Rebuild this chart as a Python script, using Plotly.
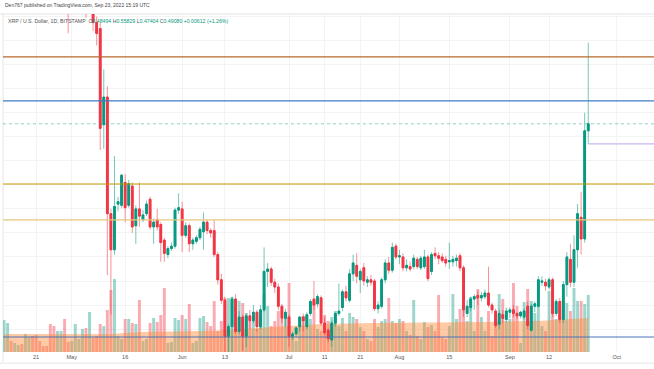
import pandas as pd
import plotly.graph_objects as go

# ---------------- data (XRP/USD, 1D, Bitstamp) ----------------
dates = pd.date_range("2022-04-12", "2022-09-23", freq="D")

open_ = [
 # Apr 12-30
 0.690,0.700,0.712,0.700,0.727,0.728,0.710,0.728,0.740,0.725,0.712,0.700,0.695,0.690,0.680,0.630,0.645,0.650,0.615,
 # May
 0.590,0.612,0.618,0.620,0.650,0.598,0.602,0.575,0.570,0.490,0.513,0.416,0.386,0.424,0.423,0.442,0.423,0.439,0.406,0.420,
 0.411,0.416,0.428,0.405,0.411,0.407,0.394,0.382,0.387,0.389,0.419,
 # Jun
 0.420,0.398,0.406,0.391,0.393,0.396,0.401,0.409,0.402,0.402,0.382,0.361,0.344,0.314,0.322,0.345,0.318,0.330,0.314,0.331,
 0.327,0.334,0.322,0.336,0.368,0.370,0.359,0.355,0.339,0.329,
 # Jul
 0.330,0.314,0.316,0.322,0.330,0.322,0.333,0.345,0.341,0.346,0.325,0.319,0.311,0.325,0.333,0.338,0.351,0.344,0.366,0.373,
 0.361,0.371,0.359,0.361,0.360,0.337,0.339,0.361,0.375,0.369,0.389,
 # Aug
 0.380,0.380,0.371,0.372,0.372,0.378,0.371,0.372,0.380,0.368,0.383,0.381,0.380,0.378,0.376,0.376,0.377,0.381,0.371,0.333,
 0.338,0.345,0.348,0.346,0.347,0.350,0.340,0.335,0.324,0.332,0.328,
 # Sep 1-23
 0.334,0.336,0.333,0.331,0.330,0.339,0.319,0.339,0.339,0.359,0.359,0.355,0.361,0.333,0.343,0.328,0.357,0.378,0.359,0.386,
 0.413,0.395,0.48494,
]
high = [
 0.705,0.716,0.720,0.730,0.735,0.732,0.730,0.745,0.760,0.750,0.718,0.705,0.700,0.700,0.690,0.650,0.660,0.655,0.620,
 0.620,0.625,0.625,0.660,0.655,0.612,0.606,0.580,0.575,0.536,0.522,0.420,0.464,0.430,0.449,0.449,0.444,0.442,0.423,0.442,
 0.419,0.427,0.430,0.412,0.420,0.409,0.396,0.389,0.392,0.421,0.433,
 0.426,0.409,0.408,0.396,0.398,0.405,0.417,0.411,0.404,0.411,0.384,0.366,0.347,0.324,0.347,0.349,0.335,0.332,0.333,0.336,
 0.340,0.336,0.340,0.388,0.375,0.372,0.362,0.358,0.341,0.337,
 0.332,0.318,0.322,0.331,0.333,0.334,0.345,0.360,0.349,0.348,0.330,0.321,0.327,0.334,0.358,0.353,0.356,0.370,0.382,0.383,
 0.370,0.375,0.364,0.365,0.362,0.343,0.363,0.378,0.380,0.392,0.391,
 0.386,0.383,0.378,0.376,0.382,0.380,0.381,0.386,0.382,0.384,0.388,0.384,0.383,0.381,0.392,0.381,0.382,0.383,0.373,0.344,
 0.347,0.349,0.352,0.351,0.353,0.372,0.342,0.337,0.336,0.336,0.338,
 0.338,0.340,0.334,0.335,0.337,0.343,0.341,0.343,0.364,0.364,0.362,0.363,0.363,0.345,0.346,0.360,0.384,0.391,0.398,0.424,
 0.434,0.500,0.55829,
]
low = [
 0.680,0.690,0.690,0.698,0.715,0.705,0.690,0.720,0.720,0.700,0.695,0.690,0.680,0.640,0.625,0.625,0.630,0.610,0.566,
 0.585,0.600,0.603,0.610,0.579,0.586,0.568,0.556,0.469,0.470,0.365,0.332,0.382,0.418,0.421,0.409,0.421,0.400,0.391,0.405,
 0.409,0.414,0.403,0.391,0.402,0.376,0.376,0.379,0.385,0.387,0.416,
 0.384,0.396,0.384,0.386,0.391,0.394,0.386,0.399,0.396,0.380,0.357,0.341,0.300,0.300,0.300,0.316,0.316,0.302,0.305,0.320,
 0.325,0.318,0.320,0.334,0.355,0.356,0.350,0.336,0.325,0.322,
 0.305,0.311,0.313,0.318,0.318,0.320,0.331,0.336,0.338,0.323,0.315,0.309,0.305,0.322,0.331,0.335,0.343,0.342,0.360,0.358,
 0.350,0.356,0.355,0.356,0.335,0.333,0.337,0.358,0.366,0.367,0.378,
 0.374,0.368,0.368,0.368,0.370,0.370,0.369,0.370,0.360,0.365,0.378,0.374,0.375,0.372,0.370,0.372,0.372,0.368,0.330,0.330,
 0.335,0.336,0.340,0.343,0.345,0.338,0.333,0.321,0.320,0.325,0.326,
 0.329,0.330,0.328,0.329,0.328,0.320,0.318,0.334,0.338,0.356,0.352,0.353,0.330,0.331,0.325,0.325,0.347,0.355,0.355,0.371,
 0.382,0.392,0.47404,
]
close = [
 0.700,0.712,0.700,0.727,0.728,0.710,0.728,0.740,0.725,0.712,0.700,0.695,0.690,0.680,0.630,0.645,0.650,0.615,0.590,
 0.612,0.618,0.620,0.650,0.598,0.602,0.575,0.566,0.487,0.513,0.416,0.386,0.422,0.426,0.448,0.421,0.441,0.405,0.420,0.414,
 0.415,0.424,0.405,0.409,0.405,0.392,0.383,0.387,0.389,0.419,0.421,
 0.398,0.406,0.391,0.394,0.396,0.403,0.409,0.402,0.400,0.382,0.361,0.344,0.314,0.322,0.345,0.318,0.330,0.314,0.331,0.327,
 0.334,0.322,0.336,0.368,0.370,0.359,0.355,0.339,0.329,0.334,
 0.314,0.316,0.321,0.330,0.327,0.332,0.343,0.340,0.347,0.325,0.317,0.312,0.325,0.333,0.335,0.351,0.346,0.366,0.375,0.364,
 0.368,0.360,0.361,0.359,0.337,0.340,0.361,0.375,0.369,0.388,0.380,
 0.381,0.371,0.373,0.370,0.379,0.372,0.379,0.380,0.362,0.382,0.381,0.379,0.377,0.375,0.377,0.378,0.379,0.371,0.336,0.339,
 0.345,0.347,0.346,0.348,0.350,0.340,0.336,0.323,0.333,0.329,0.335,
 0.336,0.333,0.331,0.334,0.335,0.323,0.339,0.341,0.361,0.360,0.356,0.361,0.333,0.343,0.328,0.357,0.380,0.359,0.386,0.416,
 0.395,0.48494,0.49080,
]
volume = [
 48,43.5,16.5,13.5,10.5,12,27,22.5,24,25.5,16.5,9,9,42,39,31.5,31.5,49.5,15,
 16.5,42,19.5,34.5,36,60,21,24,42,39,63,93,109.5,24,19.5,49.5,49.5,43.5,42,78,
 16.5,19.5,43.5,51,45,55.5,96,13.5,15,51,48,
 55.5,49.5,72,13.5,16.5,51,54,45,39,76.5,31.5,46.5,81,81,82.5,78,76.5,73.5,58.5,46.5,
 54,34.5,52.5,87,69,39,46.5,61.5,49.5,54,
 103.5,24,16.5,52.5,54,55.5,49.5,76.5,34.5,31.5,55.5,46.5,52.5,61.5,39,51,31.5,58.5,52.5,49.5,
 37.5,31.5,19.5,16.5,49.5,37.5,46.5,49.5,81,46.5,43.5,
 49.5,46.5,31.5,25.5,78,24,19.5,45,37.5,40.5,31.5,85.5,22.5,19.5,39,87,49.5,64.5,98,46.5,
 82.5,31.5,94.5,52.5,31.5,61.5,24,49.5,87,79.5,46.5,
 49.5,103.5,69,13.5,75,94.5,76.5,58.5,105,39,31.5,91.5,91.5,49.5,69,76.5,73.5,61.5,96,76.5,
 76.5,72,85.5,
]
# smoothed volume average (area behind the columns)
vol_ma_dates = ["2022-04-12","2022-05-12","2022-05-20","2022-06-10","2022-06-25","2022-07-10",
                "2022-07-25","2022-08-10","2022-08-25","2022-09-10","2022-09-23"]
vol_ma = [27, 27, 30, 32, 37, 42, 43.5, 44, 45, 47, 51]

# horizontal levels drawn on the chart
levels = [0.5464, 0.5098, 0.4407, 0.4108, 0.3134]
level_colors = ["#b8692c", "#3d7cc6", "#c49a00", "#e7c87c", "#4a72b8"]
last_low = 0.47404
last_close = 0.49080

tick_dates = ["2022-04-21","2022-05-01","2022-05-16","2022-06-01","2022-06-13","2022-07-01","2022-07-11",
              "2022-07-21","2022-08-01","2022-08-15","2022-09-01","2022-09-12","2022-10-01"]
tick_text = ["21","May","16","Jun","13","Jul","11","21","Aug","15","Sep","12","Oct"]
price_grid = [0.32,0.34,0.36,0.38,0.40,0.42,0.44,0.46,0.48,0.50,0.52,0.54,0.56,0.58]

# ---------------- figure ----------------
UP, DN = "#089981", "#f23645"
vol_colors = ["rgba(8,153,129,0.40)" if c >= o else "rgba(242,54,69,0.42)" for o, c in zip(open_, close)]

fig = go.Figure()
fig.add_trace(go.Bar(x=dates, y=volume, marker=dict(color=vol_colors, line=dict(width=0)),
                     yaxis="y", hoverinfo="skip", showlegend=False))
fig.add_trace(go.Scatter(x=vol_ma_dates, y=vol_ma, mode="lines", line=dict(width=0),
                         fill="tozeroy", fillcolor="rgba(255,140,60,0.46)", yaxis="y",
                         hoverinfo="skip", showlegend=False))
# wicks (light)
fig.add_trace(go.Candlestick(x=dates, open=open_, high=high, low=low, close=close, yaxis="y2",
                             increasing=dict(line=dict(color="rgba(8,153,129,0.55)", width=1),
                                             fillcolor="rgba(8,153,129,0.55)"),
                             decreasing=dict(line=dict(color="rgba(242,54,69,0.55)", width=1),
                                             fillcolor="rgba(242,54,69,0.55)"),
                             showlegend=False, hoverinfo="skip"))
# bodies (solid)
body_hi = [max(o, c) for o, c in zip(open_, close)]
body_lo = [min(o, c) for o, c in zip(open_, close)]
fig.add_trace(go.Candlestick(x=dates, open=open_, high=body_hi, low=body_lo, close=close, yaxis="y2",
                             increasing=dict(line=dict(color=UP, width=1), fillcolor=UP),
                             decreasing=dict(line=dict(color=DN, width=1), fillcolor=DN),
                             showlegend=False))

shapes = []
for lv, col in zip(levels, level_colors):
    shapes.append(dict(type="line", xref="paper", x0=0, x1=1, yref="y2", y0=lv, y1=lv,
                       line=dict(color=col, width=1.2), layer="above"))
shapes.append(dict(type="line", xref="paper", x0=0, x1=1, yref="y2", y0=last_close, y1=last_close,
                   line=dict(color="rgba(8,153,129,0.45)", width=1, dash="dot"), layer="above"))
shapes.append(dict(type="line", xref="x", x0=dates[-1], x1="2022-10-12", yref="y2", y0=last_low, y1=last_low,
                   line=dict(color="#c9b4f0", width=1.2), layer="above"))
# frame lines
shapes.append(dict(type="line", xref="paper", x0=-0.01, x1=1.01, yref="paper", y0=1, y1=1,
                   line=dict(color="#e0e3eb", width=1), layer="below"))
shapes.append(dict(type="line", xref="paper", x0=0, x1=0, yref="paper", y0=-0.03, y1=1,
                   line=dict(color="#e6e6e6", width=1), layer="below"))
shapes.append(dict(type="line", xref="paper", x0=-0.01, x1=1.01, yref="paper", y0=-0.033, y1=-0.033,
                   line=dict(color="#e6e6e6", width=1), layer="below"))

FONT = "Liberation Sans, Arial, sans-serif"
ohlc = ("<span style='color:#555'>XRP / U.S. Dollar, 1D, BITSTAMP</span>  "
        "<span style='color:#555'>O</span><span style='color:#089981'>0.48494</span> "
        "<span style='color:#555'>H</span><span style='color:#089981'>0.55829</span> "
        "<span style='color:#555'>L</span><span style='color:#089981'>0.47404</span> "
        "<span style='color:#555'>C</span><span style='color:#089981'>0.49080 +0.00612 (+1.26%)</span>")
annotations = [
    dict(text="Den767 published on TradingView.com, Sep 23, 2022 15:19 UTC", xref="paper", yref="paper",
         x=0.0, y=1.027, xanchor="left", yanchor="middle", showarrow=False,
         font=dict(family=FONT, size=5.0, color="#444")),
    dict(text=ohlc, xref="paper", yref="paper", x=0.0046, y=0.979, xanchor="left", yanchor="middle",
         showarrow=False, font=dict(family=FONT, size=5.2, color="#555")),
]

fig.update_layout(
    width=654, height=369,
    margin=dict(l=3, r=0, t=14, b=17),
    paper_bgcolor="white", plot_bgcolor="white",
    showlegend=False, bargap=0.18, boxgap=0.3,
    font=dict(family=FONT),
    xaxis=dict(type="date", range=["2022-04-11 17:00", "2022-10-11 11:00"],
               rangeslider=dict(visible=False), tickmode="array", tickvals=tick_dates, ticktext=tick_text,
               tickfont=dict(size=5.5, color="#555"), ticks="", showgrid=True, gridcolor="#f3f3f3",
               zeroline=False, showline=False, fixedrange=True),
    yaxis=dict(range=[0, 507], visible=False, fixedrange=True),
    yaxis2=dict(range=[0.30094, 0.58215], overlaying="y", side="right", showticklabels=False,
                tickmode="array", tickvals=price_grid, showgrid=True, gridcolor="#f3f3f3",
                zeroline=False, ticks="", fixedrange=True),
    shapes=shapes, annotations=annotations,
)
fig.write_html("out.html", config={"displayModeBar": False},
               post_script="document.body.style.margin='0px';document.body.style.padding='0px';")
